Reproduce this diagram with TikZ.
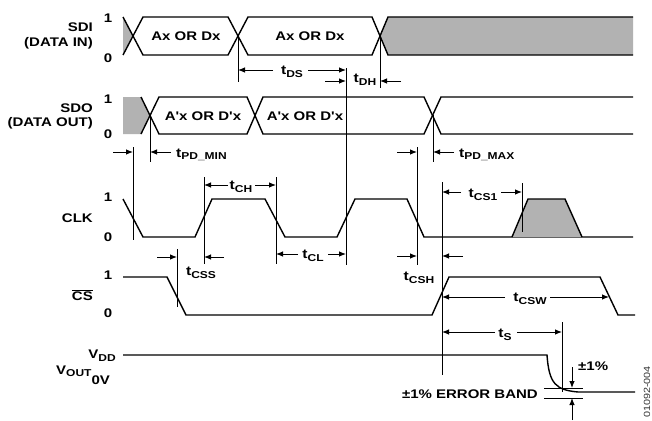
\documentclass[tikz,border=0pt]{standalone}
\usepackage{fontspec}
\newfontfamily\labfont{Liberation Sans}[FakeStretch=1.2]
\usetikzlibrary{arrows.meta}
\newcommand\subl[1]{\raisebox{-0.4ex}{\fontsize{10}{10}\selectfont #1}}
\newcommand\tlb[1]{{\fontsize{13}{13}\selectfont t}\subl{#1}}
\begin{document}
\begin{tikzpicture}[x=1pt,y=-1pt,
  every node/.style={font=\labfont\bfseries\fontsize{12.5}{14}\selectfont, inner sep=0pt},
  wave/.style={line width=1.4pt, line join=miter},
  vl/.style={line width=0.9pt},
  arr/.style={line width=0.9pt, -{Latex[length=7pt,width=5.5pt]}},
  grayfill/.style={fill=black!30}]
\useasboundingbox (0,0) rectangle (652,420);

% ---------- SDI ----------
\fill[grayfill] (123,17) -- (133,36) -- (123,55) -- cycle;
\fill[grayfill] (380,36) -- (388,17) -- (633,17) -- (633,55) -- (388,55) -- cycle;
\draw[wave] (123,17) -- (143,55) -- (228,55) -- (248,17) -- (372,17) -- (388,55) -- (633,55);
\draw[wave] (123,55) -- (143,17) -- (228,17) -- (248,55) -- (372,55) -- (388,17) -- (633,17);
\node (sdia) at (186,36) {Ax OR Dx};
\node (sdib) at (310,36) {Ax OR Dx};

% ---------- SDO ----------
\fill[grayfill] (123,97) -- (141,97) -- (150,115.5) -- (141,134) -- (123,134) -- cycle;
\draw[wave] (141,97) -- (159,134) -- (247,134) -- (263,97) -- (424,97) -- (441,134) -- (633,134);
\draw[wave] (141,134) -- (159,97) -- (247,97) -- (263,134) -- (424,134) -- (441,97) -- (633,97);
\node (sdoa) at (203,116) {A'x OR D'x};
\node (sdob) at (305,116) {A'x OR D'x};

% ---------- CLK ----------
\draw[wave] (123,199) -- (143,237) -- (195,237) -- (212,199) -- (265,199) -- (285,237) -- (337,237) -- (355,199) -- (407,199) -- (424,237) -- (633,237);
\filldraw[wave, grayfill] (512,237) -- (528,199) -- (565,199) -- (582,237);

% ---------- CS ----------
\draw[wave] (123,277) -- (167,277) -- (186,315) -- (432,315) -- (449,277) -- (600,277) -- (618,315) -- (635,315);

% ---------- VOUT ----------
\draw[wave] (123,355) -- (547,355) .. controls (549,384) and (556,390) .. (578,392) -- (635,392);
\draw[vl] (544,388) -- (583,388);
\draw[vl] (544,398) -- (583,398);

% ---------- vertical reference lines ----------
\draw[vl] (238,36) -- (238,82);
\draw[vl] (346,68) -- (346,265);
\draw[vl] (380,36) -- (380,88);
\draw[vl] (150,115) -- (150,162);
\draw[vl] (133,147) -- (133,240);
\draw[vl] (417,147) -- (417,265);
\draw[vl] (433,115) -- (433,162);
\draw[vl] (204,177) -- (204,264);
\draw[vl] (276,177) -- (276,264);
\draw[vl] (442,182) -- (442,375);
\draw[vl] (522,183) -- (522,232);
\draw[vl] (177,249) -- (177,307);
\draw[vl] (562,322) -- (562,392);

% ---------- timing arrows ----------
\draw[arr] (273,70) -- (238,70);
\draw[arr] (308,70) -- (346,70);
\node (tds) at (292,72) {\tlb{DS}};

\draw[arr] (325,81) -- (346,81);
\draw[arr] (401,81) -- (380,81);
\node (tdh) at (365,80) {\tlb{DH}};

\draw[arr] (113,152) -- (133,152);
\draw[arr] (171,152) -- (150,152);
\node[anchor=west] (tpdmin) at (176,155) {\tlb{PD\_MIN}};

\draw[arr] (397,152) -- (417,152);
\draw[arr] (454,152) -- (433,152);
\node[anchor=west] (tpdmax) at (459,155) {\tlb{PD\_MAX}};

\draw[arr] (228,185) -- (204,185);
\draw[arr] (255,185) -- (276,185);
\node (tch) at (241,187) {\tlb{CH}};

\draw[arr] (461,192) -- (442,192);
\draw[arr] (501,192) -- (522,192);
\node (tcs1) at (483,195) {\tlb{CS1}};

\draw[arr] (157,257) -- (177,257);
\draw[arr] (224,257) -- (204,257);
\node (tcss) at (201,273) {\tlb{CSS}};

\draw[arr] (298,254) -- (276,254);
\draw[arr] (328,254) -- (346,254);
\node (tcl) at (313,256) {\tlb{CL}};

\draw[arr] (397,256) -- (417,256);
\draw[arr] (463,256) -- (442,256);
\node (tcsh) at (419,278) {\tlb{CSH}};

\draw[arr] (505,297) -- (442,297);
\draw[arr] (550,297) -- (609,297);
\node (tcsw) at (530,299) {\tlb{CSW}};

\draw[arr] (495,332) -- (442,332);
\draw[arr] (517,332) -- (562,332);
\node (ts) at (505,335) {\tlb{S}};

\draw[arr] (572,367) -- (572,388);
\draw[arr] (572,420) -- (572,398);
\node[anchor=west] (pct) at (578,366) {±1\%};
\node[anchor=east] (band) at (538,394) {±1\% ERROR BAND};

% ---------- left labels ----------
\node[anchor=east] (sdi) at (93,27) {SDI};
\node[anchor=east] (sdi2) at (93,43) {(DATA IN)};
\node (sdi1) at (108,18) {1};
\node (sdi0) at (108,58) {0};

\node[anchor=east] (sdo) at (93,108) {SDO};
\node[anchor=east] (sdo2) at (93,123) {(DATA OUT)};
\node (sdo1) at (108,99) {1};
\node (sdo0) at (108,134) {0};

\node[anchor=east] (clk) at (93,218) {CLK};
\node (clk1) at (108,197) {1};
\node (clk0) at (108,237) {0};

\node[anchor=east] (cs) at (93,295) {$\overline{\hbox{CS}}$};
\node (cs1) at (108,275) {1};
\node (cs0) at (108,313) {0};

\node[anchor=east] (vdd) at (116,356) {V\subl{DD}};
\node[anchor=west] (vout) at (56,375) {V\subl{OUT}\raisebox{-1.5ex}{0V}};

\node[rotate=90, font=\labfont\fontsize{9}{9}\selectfont, text=black!80] (fig) at (647,392) {01092-004};
\end{tikzpicture}
\end{document}
